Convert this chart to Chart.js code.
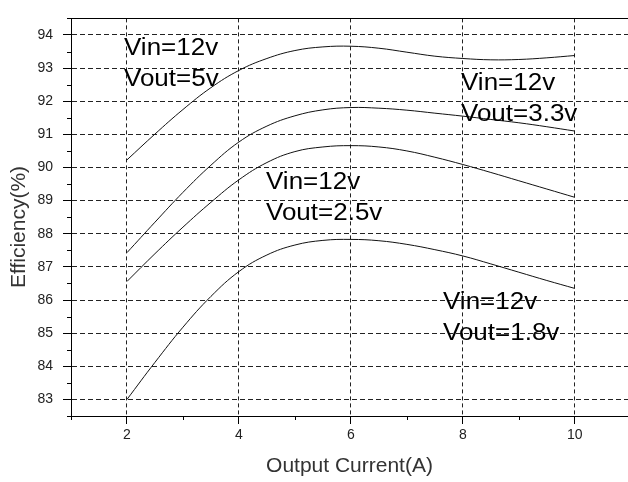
<!DOCTYPE html>
<html>
<head>
<meta charset="utf-8">
<script src="https://cdn.jsdelivr.net/npm/chart.js@4.4.0/dist/chart.umd.min.js"></script>
<style>
  html, body { margin: 0; padding: 0; background: #fff; }
  canvas { display: block; }
</style>
</head>
<body>
<canvas id="c" width="628" height="482"></canvas>
<script>
// output current (A)
const current = [2, 2.5, 3, 3.5, 4, 4.5, 5, 5.5, 6, 6.5, 7, 7.5, 8, 8.5, 9, 9.5, 10];
// efficiency (%) per output voltage, Vin = 12v
const eff5v  = [90.23, 91.01, 91.75, 92.41, 92.93, 93.29, 93.53, 93.64, 93.66, 93.60, 93.48, 93.36, 93.29, 93.25, 93.26, 93.31, 93.38];
const eff33v = [87.43, 88.35, 89.25, 90.07, 90.77, 91.25, 91.56, 91.74, 91.81, 91.79, 91.73, 91.64, 91.55, 91.45, 91.35, 91.23, 91.10];
const eff25v = [86.56, 87.40, 88.20, 88.95, 89.63, 90.15, 90.48, 90.62, 90.66, 90.62, 90.50, 90.31, 90.09, 89.85, 89.60, 89.35, 89.10];
const eff18v = [83.00, 84.12, 85.18, 86.11, 86.86, 87.36, 87.66, 87.80, 87.83, 87.79, 87.68, 87.52, 87.33, 87.09, 86.84, 86.59, 86.35];

const xTicks = [2, 4, 6, 8, 10];
const xMinor = [1, 3, 5, 7, 9];
const yTicks = [83, 84, 85, 86, 87, 88, 89, 90, 91, 92, 93, 94];
const yMinor = [82.5, 83.5, 84.5, 85.5, 86.5, 87.5, 88.5, 89.5, 90.5, 91.5, 92.5, 93.5, 94.5];

const vinText  = 'Vin=12v';
const voutText = ['Vout=5v', 'Vout=3.3v', 'Vout=2.5v', 'Vout=1.8v'];

const FONT = "'Liberation Sans', Arial, sans-serif";
Chart.defaults.font.family = FONT;

const series = [eff5v, eff33v, eff25v, eff18v];

// label anchors (left, first baseline) in px
const labelPos = [[124, 55], [461, 90], [266, 189], [443, 309]];

const extras = {
  id: 'extras',
  afterDatasetsDraw(chart) {
    const { ctx, chartArea: a, scales: { x, y } } = chart;
    ctx.save();
    ctx.strokeStyle = '#000';
    ctx.lineWidth = 1;
    ctx.beginPath();
    xMinor.forEach(v => {
      const px = Math.round(x.getPixelForValue(v)) + 0.5;
      ctx.moveTo(px, a.bottom); ctx.lineTo(px, a.bottom + 4);
    });
    yMinor.forEach(v => {
      const py = Math.round(y.getPixelForValue(v)) + 0.5;
      ctx.moveTo(a.left - 4, py); ctx.lineTo(a.left, py);
    });
    ctx.stroke();

    // y title
    ctx.fillStyle = '#333';
    ctx.font = '21px ' + FONT;
    ctx.textAlign = 'center';
    ctx.textBaseline = 'middle';
    ctx.translate(19, 227);
    ctx.rotate(-Math.PI / 2);
    ctx.fillText('Efficiency(%)', 0, 0);
    ctx.restore();

    // curve labels
    ctx.save();
    ctx.fillStyle = '#000';
    ctx.font = '23px ' + FONT;
    ctx.textBaseline = 'alphabetic';
    labelPos.forEach(([lx, ly], i) => {
      ctx.save();
      ctx.translate(lx, ly);
      ctx.scale(1.13, 1);
      ctx.fillText(vinText, 0, 0);
      ctx.fillText(voutText[i], 0, 31);
      ctx.restore();
    });
    ctx.restore();
  }
};

new Chart(document.getElementById('c'), {
  type: 'line',
  data: {
    datasets: series.map((s, i) => ({
      label: voutText[i],
      data: current.map((c, j) => ({ x: c, y: s[j] })),
      borderColor: '#111',
      borderWidth: 1,
      pointRadius: 0,
      fill: false,
      tension: 0.4,
    })),
  },
  options: {
    responsive: false,
    devicePixelRatio: 1,
    animation: false,
    layout: { padding: { top: 6, left: 0, right: 0, bottom: 0 } },
    plugins: { legend: { display: false }, tooltip: { enabled: false } },
    scales: {
      x: {
        type: 'linear', position: 'bottom', min: 1, max: 10.95,
        afterBuildTicks: s => { s.ticks = xTicks.map(v => ({ value: v })); },
        afterFit: s => { s.height = 66; },
        grid: { color: '#222', lineWidth: 1, tickColor: '#000', tickLength: 8 },
        border: { display: true, color: '#000', width: 1, dash: [4, 3] },
        ticks: { color: '#222', font: { size: 14 }, padding: 3, maxRotation: 0 },
        title: { display: true, text: 'Output Current(A)', color: '#333',
                 font: { size: 21 }, padding: { top: 0, bottom: 3 } },
      },
      xTop: {
        type: 'linear', position: 'top', min: 1, max: 10.95,
        afterFit: s => { s.height = 0; },
        grid: { display: false, drawTicks: false },
        border: { display: true, color: '#000', width: 1 },
        ticks: { display: false },
      },
      y: {
        type: 'linear', min: 82.5, max: 94.5,
        afterBuildTicks: s => { s.ticks = yTicks.map(v => ({ value: v })); },
        afterFit: s => { s.width = 71; },
        grid: { color: '#222', lineWidth: 1, tickColor: '#000', tickLength: 8 },
        border: { display: true, color: '#000', width: 1, dash: [5, 3] },
        ticks: { color: '#222', font: { size: 14 }, padding: 10 },
      },
    },
  },
  plugins: [extras],
});
</script>
</body>
</html>
